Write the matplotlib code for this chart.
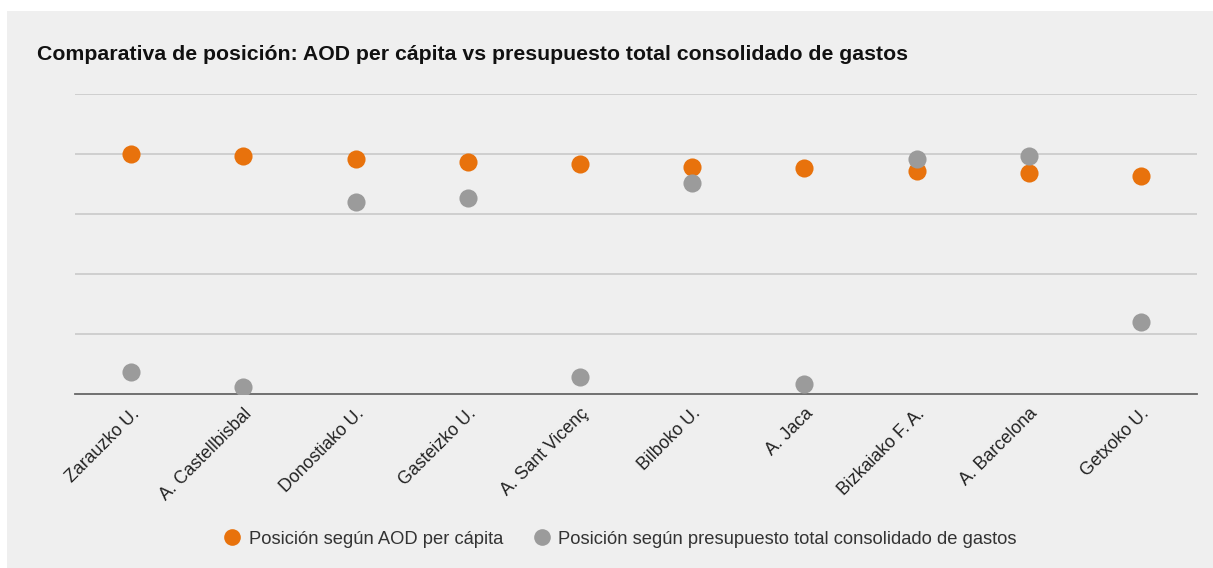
import matplotlib
matplotlib.use("Agg")
import matplotlib.pyplot as plt
from matplotlib.patches import Rectangle
from matplotlib.lines import Line2D

categories = ["Zarauzko U.", "A. Castellbisbal", "Donostiako U.", "Gasteizko U.",
              "A. Sant Vicenç", "Bilboko U.", "A. Jaca", "Bizkaiako F. A.",
              "A. Barcelona", "Getxoko U."]
aod_per_capita = [4.00, 3.96, 3.92, 3.87, 3.83, 3.79, 3.76, 3.71, 3.68, 3.64]
presupuesto = [0.36, 0.12, 3.20, 3.27, 0.28, 3.52, 0.16, 3.92, 3.96, 1.20]
series_names = ["Posición según AOD per cápita",
                "Posición según presupuesto total consolidado de gastos"]

ORANGE = "#e8720c"
GRAY = "#9b9b9b"
BG = "#efefef"

plt.rcParams['font.family'] = ['Liberation Sans', 'DejaVu Sans']

W, H = 1213, 568
fig = plt.figure(figsize=(W / 100, H / 100), dpi=100)
fig.patch.set_facecolor("white")
fig.add_artist(Rectangle((7 / W, 0), (W - 7) / W, (H - 11) / H,
                         transform=fig.transFigure, facecolor=BG,
                         edgecolor="none", zorder=-10))

ax = fig.add_axes([75 / W, 1 - 394 / H, (1197 - 75) / W, 300 / H])
ax.set_facecolor(BG)
ax.patch.set_alpha(0)

x = list(range(len(categories)))
ax.scatter(x, aod_per_capita, s=170, color=ORANGE, zorder=3, linewidths=0)
ax.scatter(x, presupuesto, s=170, color=GRAY, zorder=4, linewidths=0)

ax.set_xlim(-0.5, len(categories) - 0.5)
ax.set_ylim(0, 5)
ax.set_yticks([1, 2, 3, 4, 5])
ax.yaxis.grid(True, color="#cccccc", linewidth=1.3)
ax.set_axisbelow(True)
ax.tick_params(axis="y", left=False, labelleft=False)
ax.tick_params(axis="x", length=0, pad=8)
ax.set_xticks(x)
ax.set_xticklabels(categories, rotation=45, ha="right", rotation_mode="anchor",
                   fontsize=12.8, color="#222222")
for sp in ["top", "right", "left"]:
    ax.spines[sp].set_visible(False)
ax.spines["bottom"].set_color("#666666")
ax.spines["bottom"].set_linewidth(1.3)
ax.spines["bottom"].set_zorder(2)

fig.text(37 / W, 1 - 54 / H,
         "Comparativa de posición: AOD per cápita vs presupuesto total consolidado de gastos",
         fontsize=15.3, fontweight="bold", ha="left", va="center", color="#111111")

handles = [Line2D([], [], marker="o", linestyle="none", markersize=12,
                  markerfacecolor=ORANGE, markeredgewidth=0),
           Line2D([], [], marker="o", linestyle="none", markersize=12,
                  markerfacecolor=GRAY, markeredgewidth=0)]
leg = fig.legend(handles, series_names, loc="center", bbox_to_anchor=(620 / W, 1 - 539 / H),
                 ncol=2, frameon=False, fontsize=13.2, handletextpad=0.4,
                 columnspacing=1.6, handlelength=1.0)
for t in leg.get_texts():
    t.set_color("#333333")

fig.savefig("out.png", dpi=100, facecolor="white")
